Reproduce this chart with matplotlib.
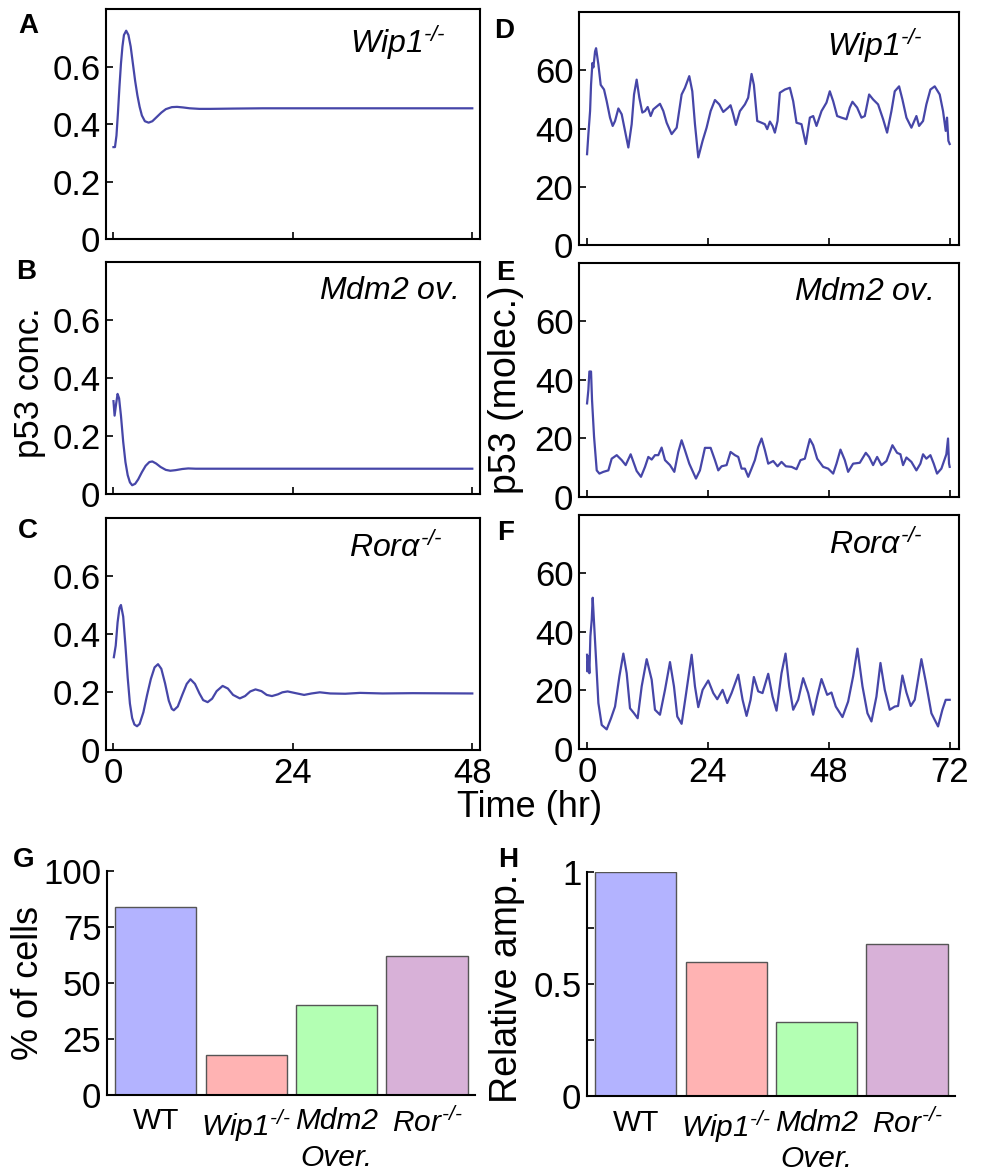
import matplotlib
matplotlib.use('Agg')
import matplotlib.pyplot as plt

plt.rcParams['font.family'] = ['Liberation Sans', 'DejaVu Sans']
# mathtext only used for the italic genotype labels, so make every piece italic
plt.rcParams['mathtext.fontset'] = 'custom'
plt.rcParams['mathtext.rm'] = 'Liberation Sans:italic'
plt.rcParams['mathtext.it'] = 'Liberation Sans:italic'

# deterministic model (p53 conc.)
t_a = [0.0, 0.2, 0.4, 0.6, 0.8, 1.0, 1.2, 1.4, 1.7, 2.0, 2.3, 2.6, 2.9, 3.2, 3.5, 3.8, 4.2, 4.7, 5.2, 5.8,
       6.4, 7.0, 7.8, 8.5, 9.3, 10.2, 11.5, 13, 16, 20, 30, 40, 48]
p_a = [0.32, 0.32, 0.36, 0.44, 0.53, 0.61, 0.67, 0.71, 0.725, 0.71, 0.67, 0.61, 0.55, 0.50, 0.46, 0.43, 0.41,
       0.405, 0.41, 0.425, 0.44, 0.452, 0.459, 0.46, 0.458, 0.455, 0.453, 0.453, 0.454, 0.455, 0.455, 0.455, 0.455]

t_b = [0.0, 0.15, 0.35, 0.55, 0.75, 1.0, 1.3, 1.6, 1.9, 2.2, 2.5, 2.9, 3.3, 3.8, 4.3, 4.8, 5.2, 5.7, 6.3, 7.0,
       7.6, 8.3, 9.2, 10.0, 11, 13, 20, 48]
p_b = [0.32, 0.27, 0.31, 0.345, 0.33, 0.27, 0.18, 0.11, 0.065, 0.04, 0.03, 0.035, 0.05, 0.075, 0.097, 0.11,
       0.112, 0.105, 0.093, 0.083, 0.08, 0.082, 0.086, 0.088, 0.087, 0.087, 0.087, 0.087]

t_c = [0.05, 0.3, 0.55, 0.8, 1.0, 1.3, 1.6, 1.9, 2.2, 2.5, 2.8, 3.15, 3.5, 4.0, 4.5, 5.0, 5.5, 5.96, 6.4, 6.9,
       7.4, 7.8, 8.07, 8.6, 9.2, 9.8, 10.3, 10.9, 11.5, 12.0, 12.6, 13.2, 13.8, 14.6, 15.3, 16.0, 16.9, 17.6,
       18.3, 19.0, 19.8, 20.5, 21.2, 22.0, 22.6, 23.3, 24.2, 25.5, 26.5, 27.6, 29, 31, 33, 36, 40, 48]
p_c = [0.32, 0.36, 0.44, 0.49, 0.50, 0.46, 0.36, 0.25, 0.16, 0.11, 0.088, 0.082, 0.09, 0.13, 0.19, 0.245,
       0.285, 0.296, 0.28, 0.23, 0.17, 0.142, 0.137, 0.15, 0.19, 0.228, 0.244, 0.228, 0.195, 0.172, 0.165,
       0.177, 0.203, 0.221, 0.212, 0.19, 0.178, 0.186, 0.202, 0.209, 0.203, 0.19, 0.186, 0.192, 0.199, 0.202,
       0.197, 0.19, 0.195, 0.199, 0.195, 0.194, 0.197, 0.195, 0.196, 0.195]

# stochastic model (molecules)
t_d = [0, 0.26, 0.6, 0.79, 1.06, 1.26, 1.59, 1.79, 2.25, 2.71, 3.37, 3.9, 4.56, 5.09, 5.56, 6.22, 6.88, 7.54,
       8.2, 8.86, 9.33, 9.85, 10.38, 10.98, 11.51, 12.04, 12.63, 13.16, 14.48, 15.15, 15.81, 16.8, 17.8, 18.78,
       19.44, 20.3, 20.9, 21.43, 22.09, 22.95, 23.74, 24.54, 25.4, 26.26, 27.05, 28.04, 28.5, 29.03, 29.56,
       30.36, 31.35, 32.0, 32.67, 33.13, 33.8, 34.66, 35.32, 35.78, 36.31, 36.84, 37.3, 37.83, 38.29, 39.29,
       40.28, 40.94, 41.6, 42.59, 43.45, 44.25, 44.91, 45.57, 46.56, 47.55, 48.21, 48.88, 49.67, 50.53, 51.52,
       52.18, 52.71, 53.64, 54.5, 55.16, 56.02, 56.81, 57.8, 58.8, 59.59, 60.45, 61.11, 61.97, 62.63, 63.43,
       64.42, 65.41, 65.94, 66.73, 67.39, 68.19, 69.05, 70.04, 70.7, 71.23, 71.49, 71.76, 72.02]
m_d = [31.2, 38, 46, 55, 62.5, 61, 66.5, 67.6, 62, 55, 53.4, 49.4, 43.75, 40.9, 42.6, 46.9, 44.9, 39.2, 33.5,
       41.5, 51.7, 56.8, 50.6, 45.5, 46, 47.4, 44.3, 46.6, 48.5, 46, 42, 38.1, 40.3, 51.7, 54, 58, 52.8, 41.5,
       30.1, 35.8, 40.3, 46, 49.8, 48.3, 45.7, 47.2, 48, 44.9, 41.25, 46, 48.3, 50.6, 58.75, 55, 42.6, 42, 41.5,
       39.8, 42.4, 40.9, 38.6, 42.6, 52.3, 53.4, 54, 49.4, 42, 41.5, 34.7, 43.75, 44.3, 40.9, 46, 48.9, 52.8,
       49.4, 44.3, 43.75, 43.2, 47.2, 49.2, 47.2, 43.75, 44.3, 51.7, 50, 48.3, 43.2, 38.6, 46, 52.8, 54.5, 50,
       43.75, 40.3, 44.3, 40.9, 42.6, 48.3, 53.4, 54.5, 51.7, 46, 39.2, 43.75, 35.8, 34.7]

t_e = [0, 0.26, 0.46, 0.79, 0.99, 1.39, 1.92, 2.45, 3.24, 4.23, 4.89, 5.89, 6.88, 7.67, 8.66, 9.33, 9.85,
       10.71, 11.51, 12.17, 12.83, 13.49, 14.15, 14.81, 15.48, 16.47, 17.33, 18.12, 18.78, 19.44, 20.3, 21.63,
       22.42, 23.41, 24.54, 25.4, 26.06, 26.72, 27.71, 28.5, 29.37, 30.03, 30.69, 31.35, 32.01, 32.67, 33.33,
       33.99, 34.66, 35.32, 35.98, 36.97, 37.83, 38.62, 39.48, 40.61, 41.6, 42.39, 43.25, 44.25, 44.91, 45.7,
       46.89, 47.88, 48.88, 49.54, 50.33, 51.19, 51.85, 52.84, 54.17, 55.36, 56.02, 56.81, 57.61, 58.47, 59.46,
       60.65, 61.57, 62.24, 62.76, 63.43, 64.42, 65.41, 66.2, 66.73, 67.39, 68.19, 68.85, 69.51, 70.37, 71.36,
       71.69, 71.89, 72.02]
m_e = [32, 36.6, 42.9, 42.9, 33.1, 20.6, 9.1, 8, 8.6, 9.1, 13.1, 14.3, 12.6, 10.9, 14.6, 11.4, 8.9, 6.9, 10.3,
       13.7, 12.8, 14.3, 14.3, 16.9, 12.6, 10.9, 8.6, 15.4, 19.4, 16, 11.4, 6.3, 9.1, 16.8, 16.8, 12.6, 9.1,
       10.5, 10.9, 15.4, 14.3, 13.7, 9.7, 9.7, 6.9, 9.7, 12.6, 17.1, 20, 16, 11.4, 12.3, 10.5, 12, 10.5, 10.3,
       9.5, 12.6, 13.1, 19.8, 17.7, 13.1, 10.3, 9.7, 8, 11.4, 16.2, 12.6, 8.6, 11.4, 11.7, 15.1, 13.7, 10.9,
       13.7, 10.9, 12.3, 17.7, 15.1, 14.6, 10.9, 13.5, 12, 9.1, 11.4, 14.6, 13.1, 14.3, 11.4, 8, 9.7, 14.6, 20,
       11.4, 10.3]

t_f = [0, 0.07, 0.26, 0.46, 0.66, 0.93, 1.12, 1.39, 1.79, 2.25, 2.91, 3.9, 4.76, 5.56, 6.42, 7.21, 7.87, 8.53,
       9.33, 10.05, 10.85, 11.84, 12.83, 13.49, 14.48, 15.48, 16.47, 17.26, 17.92, 18.78, 19.58, 20.77, 21.43,
       22.09, 22.95, 24.07, 25.07, 25.86, 26.92, 27.84, 28.7, 30.03, 30.89, 31.68, 32.47, 33.13, 33.99, 34.85,
       35.98, 36.84, 37.63, 38.62, 39.42, 40.15, 40.94, 41.93, 42.92, 43.92, 44.91, 45.7, 46.56, 47.69, 48.54,
       49.4, 50.73, 51.85, 52.84, 53.7, 54.7, 55.69, 56.48, 57.47, 58.27, 59.13, 60.12, 61.11, 61.77, 62.63,
       63.43, 64.29, 65.08, 66.4, 67.26, 68.39, 69.71, 70.57, 71.23, 72.02]
m_f = [32.2, 26.5, 31.7, 25.9, 38.5, 44.2, 51.7, 43.1, 30.5, 15.7, 8.2, 6.7, 10.5, 14.5, 24.8, 32.6, 25.9,
       13.9, 12.2, 10.5, 21.4, 30.7, 23.7, 13.4, 11.7, 20.2, 29.7, 21.4, 11.1, 8.6, 17.9, 32.2, 21.4, 14.3,
       20.2, 23.4, 19.1, 17, 20.2, 15.7, 19.1, 25.4, 16.8, 11.3, 16.8, 24.6, 19.7, 19.1, 25.7, 17.9, 13.1,
       25.9, 32.6, 21.4, 13.4, 16.8, 24.2, 19.1, 11.7, 17.9, 23.9, 18.5, 19.3, 14.5, 10.9, 16.2, 24.8, 34.3,
       21.4, 12.2, 9.4, 17.9, 29.4, 20.2, 13.4, 14.5, 14.7, 25.1, 19.3, 14.7, 16.8, 30.7, 23.1, 12.2, 7.7,
       13.4, 16.8, 16.8]

# bar charts
groups = ['WT', r'$Wip1^{\text{-/-}}$', 'Mdm2\nOver.', r'$Ror^{\text{-/-}}$']
pct_cells = [84, 18, 40, 62]
rel_amp = [1.0, 0.6, 0.33, 0.68]
bar_colors = ['#b3b3ff', '#ffb3b3', '#b3ffb3', '#d8b1d8']

line_color = '#4646a8'
tick_fs = 25

fig = plt.figure(figsize=(9.81, 11.73), dpi=100)


def line_panel(rect, t, v, ylim, yticks, xlim, xticks, show_x, label, lab_x):
    ax = fig.add_axes(rect)
    ax.plot(t, v, color=line_color, lw=1.6)
    ax.set_xlim(xlim)
    ax.set_ylim(ylim)
    ax.set_yticks(yticks)
    ax.set_yticklabels([('%g' % y) for y in yticks])
    ax.set_xticks(xticks)
    if show_x:
        ax.set_xticklabels([str(x) for x in xticks])
    else:
        ax.set_xticklabels([])
    ax.tick_params(direction='in', length=5, width=1.2, labelsize=tick_fs)
    ax.tick_params(axis='y', pad=4)
    ax.tick_params(axis='x', pad=5)
    for s in ax.spines.values():
        s.set_linewidth(1.5)
    ax.text(lab_x, 0.94, label, transform=ax.transAxes, ha='right', va='top', fontsize=23)
    return ax


W = r'$Wip1^{\text{-/-}}$'
M = r'$Mdm2\ ov.$'
R = r'$Ror\alpha^{\text{-/-}}$'

lx = 106 / 981
rx = 579 / 981
line_panel([lx, 0.7962, 0.381, 0.196], t_a, p_a, (0, 0.8), [0, 0.2, 0.4, 0.6], (-1, 49), [0, 24, 48], False, W, 0.91)
line_panel([lx, 0.5789, 0.381, 0.1978], t_b, p_b, (0, 0.8), [0, 0.2, 0.4, 0.6], (-1, 49), [0, 24, 48], False, M, 0.94)
line_panel([lx, 0.3606, 0.381, 0.1978], t_c, p_c, (0, 0.8), [0, 0.2, 0.4, 0.6], (-1, 49), [0, 24, 48], True, R, 0.9)
line_panel([rx, 0.7911, 0.387, 0.1986], t_d, m_d, (0, 80), [0, 20, 40, 60], (-1.6, 73.8), [0, 24, 48, 72], False, W, 0.905)
line_panel([rx, 0.5763, 0.387, 0.1995], t_e, m_e, (0, 80), [0, 20, 40, 60], (-1.6, 73.8), [0, 24, 48, 72], False, M, 0.93)
line_panel([rx, 0.3615, 0.387, 0.1995], t_f, m_f, (0, 80), [0, 20, 40, 60], (-1.6, 73.8), [0, 24, 48, 72], True, R, 0.905)

fig.text(30 / 981, 1 - 383 / 1173, 'p53 conc.', rotation=90, ha='center', va='center', fontsize=25)
fig.text(506 / 981, 1 - 390 / 1173, 'p53 (molec.)', rotation=90, ha='center', va='center', fontsize=27)
fig.text(530 / 981, 1 - 817 / 1173, 'Time (hr)', ha='center', va='baseline', fontsize=26)


def bar_panel(rect, vals, ylim, yticks, ylabels, ylabel, ylab_xy, ylab_fs):
    ax = fig.add_axes(rect)
    x = list(range(len(vals)))
    ax.bar(x, vals, width=0.9, color=bar_colors, edgecolor='#555555', linewidth=1)
    ax.set_xlim(-0.54, 3.53)
    ax.set_ylim(ylim)
    ax.set_yticks(yticks)
    ax.set_yticklabels(ylabels)
    ax.set_xticks(x)
    ax.set_xticklabels(groups, fontsize=21.5, linespacing=1.4)
    ax.get_xticklabels()[2].set_fontstyle('italic')
    ax.tick_params(axis='x', length=0, pad=9)
    ax.tick_params(axis='y', direction='in', length=5, width=1.2, labelsize=tick_fs, pad=4)
    ax.spines['top'].set_visible(False)
    ax.spines['right'].set_visible(False)
    ax.spines['left'].set_linewidth(1.5)
    ax.spines['bottom'].set_linewidth(1.5)
    fig.text(ylab_xy[0] / 981, 1 - ylab_xy[1] / 1173, ylabel, rotation=90, ha='center', va='center',
             fontsize=ylab_fs)
    return ax


bar_panel([107 / 981, 0.0665, 0.375, 0.191], pct_cells, (0, 100), [0, 25, 50, 75, 100],
          ['0', '25', '50', '75', '100'], '% of cells', (28, 983), 26)
bar_panel([587 / 981, 0.0656, 0.375, 0.191], rel_amp, (0, 1), [0, 0.25, 0.5, 0.75, 1],
          ['0', '', '0.5', '', '1'], 'Relative amp.', (507, 988), 27)

letters = [('A', 28, 26), ('B', 26, 272), ('C', 28, 531), ('D', 504, 31), ('E', 505, 273),
           ('F', 506, 533), ('G', 24, 860), ('H', 508, 860)]
for ch, px, py in letters:
    fig.text(px / 981, 1 - py / 1173, ch, ha='center', va='center', fontsize=20, fontweight='bold')

fig.savefig('out.png', dpi=100)
